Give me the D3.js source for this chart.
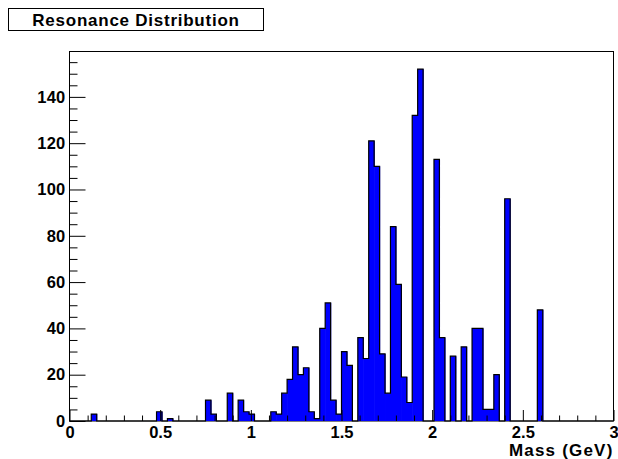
<!DOCTYPE html>
<html>
<head>
<meta charset="utf-8">
<script src="https://cdn.jsdelivr.net/npm/d3@7"></script>
<style>
  body { margin: 0; background: #ffffff; }
  svg { display: block; font-family: "Liberation Sans", Arial, Helvetica, sans-serif; font-weight: bold; }
</style>
</head>
<body>
<div id="chart"></div>
<script>
	// histogram binning (GeV)
	var massRange = [0, 3];
	var nBins = 100;

	// counts per bin (bin width 0.03 GeV)
	var binCounts = [
		0, 0, 0, 0, 3, 0, 0, 0, 0, 0,
		0, 0, 0, 0, 0, 0, 4, 0, 1, 0,
		0, 0, 0, 0, 0, 9, 3, 0, 0, 12,
		0, 9, 4, 3, 0, 0, 0, 4, 3, 12,
		18, 32, 20, 23, 4, 1, 40, 51, 9, 3,
		30, 24, 0, 36, 27, 121, 110, 29, 12, 84,
		59, 19, 8, 132, 152, 0, 0, 113, 36, 0,
		28, 0, 32, 0, 40, 40, 5, 5, 20, 0,
		96, 0, 0, 0, 0, 0, 48, 0, 0, 0,
		0, 0, 0, 0, 0, 0, 0, 0, 0, 0
	];

	var xTickValues = [0, 0.5, 1, 1.5, 2, 2.5, 3];
	var yTickValues = [0, 20, 40, 60, 80, 100, 120, 140];

	var titleText = "Resonance Distribution";
	var xTitle = "Mass (GeV)";

	// canvas
	var width = 618, height = 459;
	var frame = { left: 69.5, right: 613.5, top: 51.5, bottom: 421 };

	var svg = d3.select("#chart")
		.append("svg")
			.attr("width", width)
			.attr("height", height);

	var binWidth = (massRange[1] - massRange[0]) / nBins;
	var bins = binCounts.map(function(c, i) {
		return { lo: massRange[0] + i * binWidth, hi: massRange[0] + (i + 1) * binWidth, count: c };
	});

	var x = d3.scaleLinear()
		.domain(massRange)
		.range([frame.left, frame.right]);

	var y = d3.scaleLinear()
		.domain([0, d3.max(binCounts) * 1.05])
		.range([frame.bottom, frame.top]);

	// frame
	svg.append("rect")
		.attr("x", frame.left)
		.attr("y", frame.top)
		.attr("width", frame.right - frame.left)
		.attr("height", frame.bottom - frame.top)
		.attr("fill", "none")
		.attr("stroke", "#000000")
		.attr("stroke-width", 1);

	// bars (fill only), slightly widened so neighbours join without seams
	svg.selectAll(".bar")
		.data(bins.filter(function(d) { return d.count > 0; }))
		.enter()
		.append("rect")
			.attr("class", "bar")
			.attr("x", function(d) { return x(d.lo); })
			.attr("width", function(d) { return x(d.hi) - x(d.lo) + 0.6; })
			.attr("y", function(d) { return y(d.count); })
			.attr("height", function(d) { return y(0) - y(d.count); })
			.attr("fill", "#0000ff");

	// histogram outline as a step line
	var outline = [[massRange[0], 0]];
	bins.forEach(function(d) {
		outline.push([d.lo, d.count]);
		outline.push([d.hi, d.count]);
	});
	outline.push([massRange[1], 0]);

	var stepLine = d3.line()
		.x(function(d) { return x(d[0]); })
		.y(function(d) { return y(d[1]); });

	svg.append("path")
		.datum(outline)
		.attr("d", stepLine)
		.attr("fill", "none")
		.attr("stroke", "#000000")
		.attr("stroke-width", 1.2);

	// y axis, ticks pointing inward
	var yMinor = d3.range(0, 160, 5).filter(function(v) { return v % 20 !== 0; });
	svg.append("g")
		.attr("transform", "translate(" + frame.left + ",0)")
		.call(d3.axisLeft(y).tickValues(yMinor).tickSizeInner(-8).tickSizeOuter(0).tickFormat(""))
		.call(function(g) { g.select(".domain").remove(); });

	var yAxis = svg.append("g")
		.attr("transform", "translate(" + frame.left + ",0)")
		.call(d3.axisLeft(y).tickValues(yTickValues).tickSizeInner(-16).tickSizeOuter(0).tickPadding(4));
	yAxis.select(".domain").remove();
	yAxis.selectAll("text")
		.attr("font-size", "16.5px")
		.attr("font-family", "Liberation Sans, Arial, sans-serif")
		.attr("font-weight", "bold")
		.attr("letter-spacing", "0.2px")
		.attr("fill", "#000000");

	// x axis, ticks pointing up
	var xMinor = d3.range(0, 31).map(function(v) { return v / 10; })
		.filter(function(v) { return Math.abs(v * 2 - Math.round(v * 2)) > 1e-6; });
	svg.append("g")
		.attr("transform", "translate(0," + frame.bottom + ")")
		.call(d3.axisBottom(x).tickValues(xMinor).tickSizeInner(-5.5).tickSizeOuter(0).tickFormat(""))
		.call(function(g) { g.select(".domain").remove(); });

	var xAxis = svg.append("g")
		.attr("transform", "translate(0," + frame.bottom + ")")
		.call(d3.axisBottom(x).tickValues(xTickValues).tickSizeInner(-11).tickSizeOuter(0).tickPadding(5)
			.tickFormat(function(d) { return d3.format("")(d); }));
	xAxis.select(".domain").remove();
	xAxis.selectAll("text")
		.attr("font-size", "16.5px")
		.attr("font-family", "Liberation Sans, Arial, sans-serif")
		.attr("font-weight", "bold")
		.attr("fill", "#000000");

	svg.selectAll(".tick line").attr("stroke", "#000000");

	// x title
	svg.append("text")
		.attr("x", frame.right)
		.attr("y", 456)
		.attr("text-anchor", "end")
		.attr("font-size", "17px")
		.attr("letter-spacing", "1.2px")
		.attr("fill", "#000000")
		.text(xTitle);

	// title box
	svg.append("rect")
		.attr("x", 8.5)
		.attr("y", 8.5)
		.attr("width", 255)
		.attr("height", 22)
		.attr("fill", "#ffffff")
		.attr("stroke", "#000000")
		.attr("stroke-width", 1);

	svg.append("text")
		.attr("x", 136)
		.attr("y", 25.5)
		.attr("text-anchor", "middle")
		.attr("font-size", "17px")
		.attr("letter-spacing", "0.75px")
		.attr("fill", "#000000")
		.text(titleText);
</script>
</body>
</html>
